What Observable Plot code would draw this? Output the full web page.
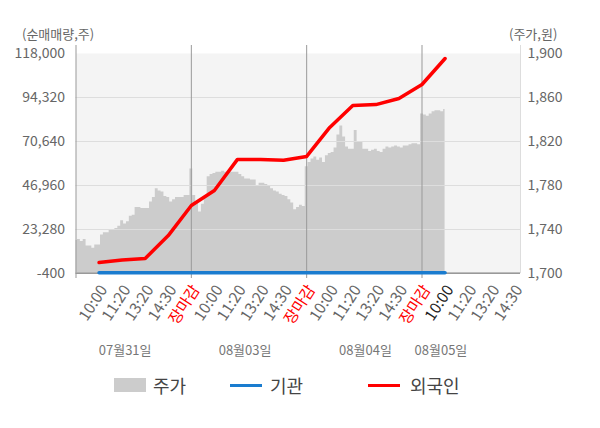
<!DOCTYPE html>
<html>
<head>
<meta charset="utf-8">
<script src="https://cdn.jsdelivr.net/npm/d3@7"></script>
<script src="https://cdn.jsdelivr.net/npm/@observablehq/plot@0.6"></script>
<style>
  body { margin: 0; background: #fff; font-family: "Noto Sans CJK KR", "Noto Sans", sans-serif; }
  #wrap { position: relative; width: 600px; height: 428px; }
  #chart { position: absolute; left: 0; top: 0; }
  .unit { position: absolute; top: 25px; font-size: 13px; line-height: 18px; color: #666; }
  .lg { position: absolute; }
  .lgt { position: absolute; top: 371px; line-height: 28px; font-size: 18px; color: #444; }
</style>
</head>
<body>
<div id="wrap">
  <div id="chart"></div>
  <div class="unit" style="left:22px">(순매매량,주)</div>
  <div class="unit" style="left:509px">(주가,원)</div>
  <div class="lg" style="left:114px;top:378px;width:32px;height:14px;background:#cccccc"></div>
  <div class="lgt" style="left:153px">주가</div>
  <div class="lg" style="left:230px;top:384px;width:32px;height:3px;background:#1a7ccf"></div>
  <div class="lgt" style="left:270px">기관</div>
  <div class="lg" style="left:368px;top:384px;width:32px;height:3px;background:#ff0000"></div>
  <div class="lgt" style="left:410px">외국인</div>
</div>
<script>
// ---- data ----
// price (주가, 원) sampled every 1/8 of a label slot, from day 1 open to day 4 10:00
const priceStep = 0.125;
const price = [
  1730,1731,1729,1731,1725,1725,1723,1726,1726,1735,1737,1737,1739,1740,1741,1743,1748,1745,1747,1752,
  1753,1760,1760,1759,1759,1759,1765,1769,1777,1775,1774,1770,1769,1765,1767,1769,1769,1769,1771,1771,1795,
  1771,1765,1756,1763,1769,1788,1790,1791,1792,1792,1793,1792,1792,1792,1792,1792,1790,1788,1786,1786,
  1785,1785,1779,1782,1782,1781,1779,1777,1775,1774,1772,1771,1770,1767,1764,1758,1760,1762,1761,1797,
  1801,1804,1806,1803,1805,1801,1807,1809,1810,1814,1826,1834,1824,1815,1813,1813,1830,1819,1819,1813,
  1813,1811,1812,1813,1811,1810,1813,1815,1814,1815,1816,1815,1814,1816,1816,1817,1818,1818,1817,1845,
  1844,1843,1845,1847,1848,1848,1847,1849
];
// cumulative net buying (순매매량, 주) at label slots 1..16
const flowSlots   = [1,2,3,4,5,6,7,8,9,10,11,12,13,14,15,16];
const foreign     = [5500,6900,7700,20000,36200,44300,61000,61000,60500,62600,78200,90000,90500,93800,101300,115300];
const institution = [0,0,0,0,0,0,0,0,0,0,0,0,0,0,0,0];
// axis labels
const xTickLabels = ["10:00","11:20","13:20","14:30","장마감","10:00","11:20","13:20","14:30","장마감",
                     "10:00","11:20","13:20","14:30","장마감","10:00","11:20","13:20","14:30"];
const dateLabels = ["07월31일","08월03일","08월04일","08월05일"];
const datePos = [2.13, 7.33, 12.55, 15.82];
const dayBounds = [0, 5, 10, 15];
const yMin = -400, yMax = 118000, yStep = 23680;
const pMin = 1700, pMax = 1900;
const xMax = 19.27;
const currentSlot = 16;

// ---- derived ----
const toLeft = p => yMin + (p - pMin) * (yMax - yMin) / (pMax - pMin);
const toPrice = v => pMin + (v - yMin) * (pMax - pMin) / (yMax - yMin);
const priceData = price.map((p, i) => ({s: i * priceStep, lo: yMin, hi: toLeft(p)}));
const flowData = flowSlots.map((s, i) => ({s, foreign: foreign[i], inst: institution[i]}));
const yTicks = d3.range(6).map(i => yMin + i * yStep);
const xTicks = xTickLabels.map((t, i) => ({s: i + 1, t}));
const fmt = v => d3.format(",")(v).replace("\u2212", "-");

const lbl = {x: "s", text: "t", frameAnchor: "bottom", dx: 9, dy: 16, rotate: -57, textAnchor: "end", fontSize: 15.5};

const chart = Plot.plot({
  width: 600, height: 370,
  marginLeft: 75.5, marginRight: 80, marginTop: 53, marginBottom: 97,
  x: {domain: [0, xMax], axis: null},
  y: {domain: [yMin, yMax], axis: null},
  style: {fontFamily: '"Noto Sans CJK KR","Noto Sans",sans-serif', color: "#666", background: "transparent"},
  marks: [
    Plot.frame({fill: "#f4f4f4", stroke: "none"}),
    Plot.areaY(priceData, {x: "s", y1: "lo", y2: "hi", fill: "#cccccc", curve: "step"}),
    Plot.ruleY(yTicks.slice(1, 5), {stroke: "#dddddd", strokeWidth: 1}),
    Plot.ruleX(dayBounds, {stroke: "#999999", strokeWidth: 1, insetTop: -8, insetBottom: -5}),
    Plot.ruleX([xMax], {stroke: "#dddddd", strokeWidth: 1, insetTop: -8}),
    Plot.ruleY([0], {stroke: "#aaaaaa", strokeWidth: 1}),
    Plot.ruleY([yMin], {stroke: "#999999", strokeWidth: 1}),
    Plot.lineY(flowData, {x: "s", y: "inst", stroke: "#1a7ccf", strokeWidth: 3.5}),
    Plot.lineY(flowData, {x: "s", y: "foreign", stroke: "#ff0000", strokeWidth: 3.5}),
    Plot.axisY({anchor: "left", ticks: yTicks, tickSize: 0, tickPadding: 11, tickFormat: fmt, fontSize: 14, label: null}),
    Plot.axisY({anchor: "right", ticks: yTicks, tickSize: 0, tickPadding: 7, tickFormat: v => fmt(Math.round(toPrice(v))), fontSize: 14, label: null}),
    Plot.text(xTicks.filter(d => d.t !== "장마감" && d.s !== currentSlot), {...lbl, fill: "#666"}),
    Plot.text(xTicks.filter(d => d.t === "장마감"), {...lbl, fill: "#ff0000"}),
    Plot.text(xTicks.filter(d => d.s === currentSlot), {...lbl, fill: "#222"}),
    Plot.text(dateLabels, {x: datePos, text: d => d, frameAnchor: "bottom", dy: 81, fontSize: 13, fill: "#777"})
  ]
});
document.getElementById("chart").appendChild(chart);
</script>
</body>
</html>
